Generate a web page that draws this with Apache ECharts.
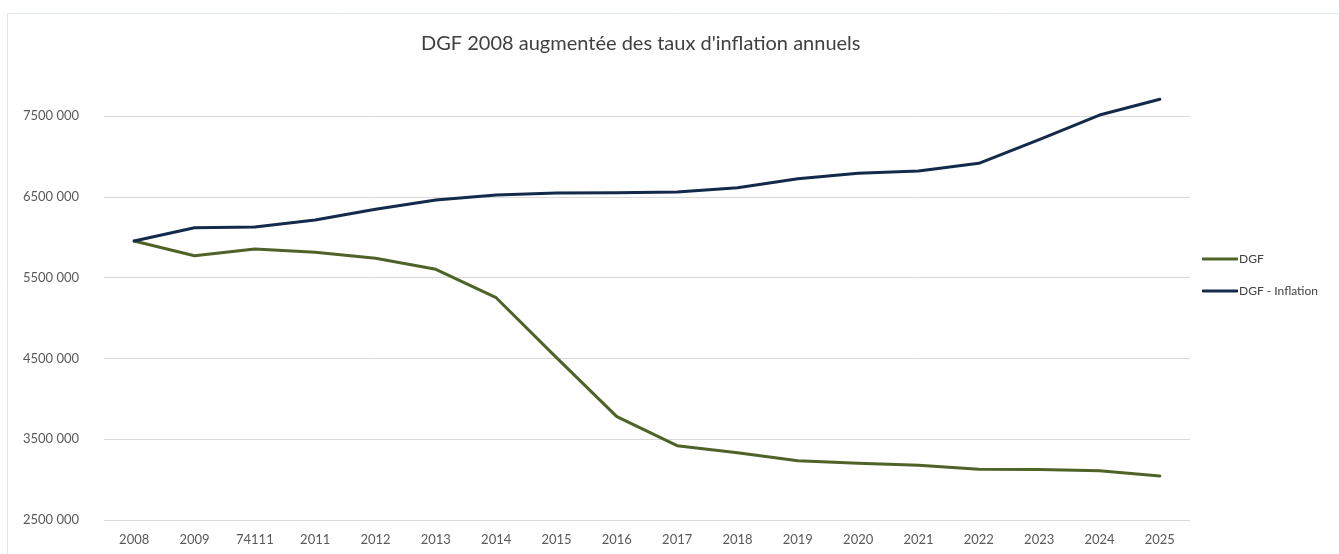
<!DOCTYPE html>
<html>
<head>
<meta charset="utf-8">
<script src="https://cdn.jsdelivr.net/npm/echarts@6/dist/echarts.min.js"></script>
<style>
  html, body { margin: 0; padding: 0; background: #ffffff; }
  #chart { width: 1339px; height: 554px; }
</style>
</head>
<body>
<div id="chart"></div>
<script>
const categories = ['2008','2009','74111','2011','2012','2013','2014','2015','2016','2017','2018','2019','2020','2021','2022','2023','2024','2025'];
const dgf = [5953000, 5771000, 5854000, 5813000, 5739000, 5603000, 5251000, 4509000, 3779000, 3420000, 3333000, 3234000, 3202000, 3177000, 3127000, 3125000, 3110000, 3045000];
const dgfInflation = [5953000, 6118000, 6126000, 6213000, 6345000, 6460000, 6522000, 6547000, 6550000, 6559000, 6613000, 6724000, 6790000, 6819000, 6914000, 7207000, 7512000, 7707000];
const yMin = 2500000;
const yMax = 7500000;
const yStep = 1000000;
const titleText = "DGF 2008 augmentée des taux d'inflation annuels";
const seriesNames = ['DGF', 'DGF - Inflation'];

const chart = echarts.init(document.getElementById('chart'), null, { renderer: 'canvas' });
const font = 'Lato, "Open Sans", sans-serif';
chart.setOption({
  animation: false,
  backgroundColor: '#ffffff',
  graphic: [{
    type: 'rect', silent: true, z: -10,
    shape: { x: 7.5, y: 13.5, width: 1400, height: 600 },
    style: { fill: '#ffffff', stroke: '#dfe5ee', lineWidth: 1 }
  }],
  title: {
    text: titleText,
    left: 416,
    top: 29,
    textStyle: { fontFamily: font, fontSize: 20, fontWeight: 'normal', color: '#404040' }
  },
  legend: {
    orient: 'vertical',
    left: 1197,
    top: 248,
    itemGap: 20,
    icon: 'roundRect',
    itemWidth: 36,
    itemHeight: 3,
    data: seriesNames,
    textStyle: { fontFamily: font, fontSize: 12, color: '#404040', padding: [0, 0, 0, -4] }
  },
  grid: { left: 104, right: 149, top: 116, bottom: 34 },
  xAxis: {
    type: 'category',
    data: categories,
    boundaryGap: true,
    axisLine: { show: false },
    axisTick: { show: false },
    axisLabel: { fontFamily: font, fontSize: 13, color: '#595959', margin: 13 }
  },
  yAxis: {
    type: 'value',
    min: yMin,
    max: yMax,
    interval: yStep,
    axisLine: { show: false },
    axisTick: { show: false },
    splitLine: { lineStyle: { color: '#d9d9d9', width: 1 } },
    axisLabel: {
      fontFamily: font, fontSize: 13, color: '#595959', margin: 25,
      formatter: v => Math.floor(v / 1000) + ' ' + String(v % 1000).padStart(3, '0')
    }
  },
  series: [
    {
      name: seriesNames[0], type: 'line', data: dgf, symbol: 'none', clip: false,
      lineStyle: { color: '#4f6228', width: 3, cap: 'round', join: 'round' },
      itemStyle: { color: '#4f6228' }
    },
    {
      name: seriesNames[1], type: 'line', data: dgfInflation, symbol: 'none', clip: false,
      lineStyle: { color: '#132a4a', width: 3, cap: 'round', join: 'round' },
      itemStyle: { color: '#132a4a' }
    }
  ]
});
</script>
</body>
</html>
